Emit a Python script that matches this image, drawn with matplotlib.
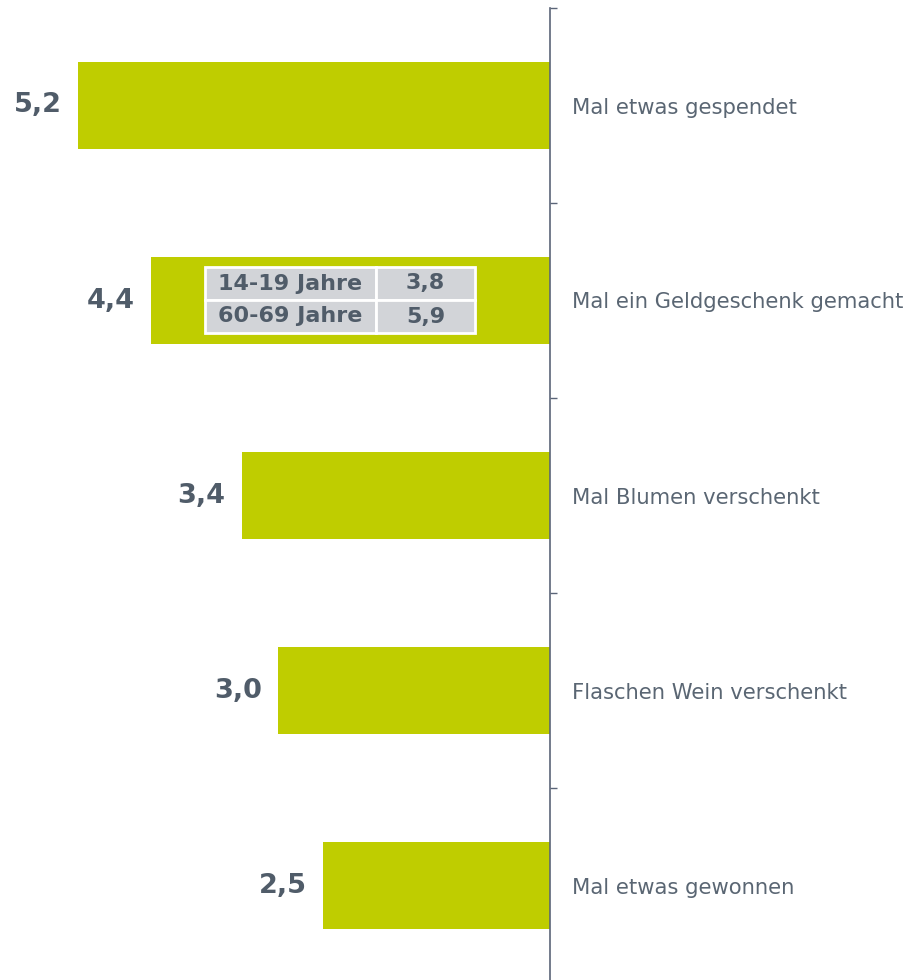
import numpy as np
import matplotlib.pyplot as plt

categories = ["Mal etwas gespendet", "Mal ein Geldgeschenk gemacht",
              "Mal Blumen verschenkt", "Flaschen Wein verschenkt",
              "Mal etwas gewonnen"]
values = [5.2, 4.4, 3.4, 3.0, 2.5]
value_labels = ["5,2", "4,4", "3,4", "3,0", "2,5"]

# Detail fuer "Geldgeschenk"
age_groups = ["14-19 Jahre", "60-69 Jahre"]
age_values = ["3,8", "5,9"]

bar_color = "#bfcd00"
text_color = "#505c69"
axis_color = "#5b6578"
cell_color = "#d2d4d8"

fig = plt.figure(figsize=(9.1, 9.8), dpi=100)
ax = fig.add_axes([0, -3 / 980, 550 / 910, 975 / 980])

y = np.arange(len(categories))
ax.barh(y, values, height=0.45, color=bar_color)
ax.set_xlim(550 / 90.7, 0)
ax.set_ylim(len(categories) - 0.5, -0.5)

for yi, v, lab in zip(y, values, value_labels):
    ax.annotate(lab, (v, yi), xytext=(-11.5, 0), textcoords="offset points",
                ha="right", va="center", fontsize=19.5, fontweight="bold",
                color=text_color)

for s in ["left", "top", "bottom"]:
    ax.spines[s].set_visible(False)
ax.spines["right"].set_color(axis_color)
ax.spines["right"].set_linewidth(1.2)
ax.set_xticks([])
ax.yaxis.tick_right()
ax.set_yticks(np.arange(-0.5, len(categories), 1.0))
ax.set_yticklabels([])
ax.tick_params(axis="y", which="major", direction="out", length=5,
               width=1, color=axis_color)
ax.set_yticks(y, minor=True)
ax.set_yticklabels(categories, minor=True)
ax.tick_params(axis="y", which="minor", length=0, pad=16,
               labelsize=15.2, labelcolor="#5a6673")

tab = ax.table(cellText=[[a, b] for a, b in zip(age_groups, age_values)],
               cellLoc="center", colWidths=[0.633, 0.367],
               bbox=[205 / 550, 1 - 325 / 975, 270 / 550, 66 / 975])
tab.set_zorder(5)
tab.auto_set_font_size(False)
for (r, c), cell in tab.get_celld().items():
    cell.set_facecolor(cell_color)
    cell.set_edgecolor("white")
    cell.set_linewidth(2)
    cell.get_text().set_fontsize(16)
    cell.get_text().set_fontweight("bold")
    cell.get_text().set_color(text_color)

fig.savefig("out.png", dpi=100)
